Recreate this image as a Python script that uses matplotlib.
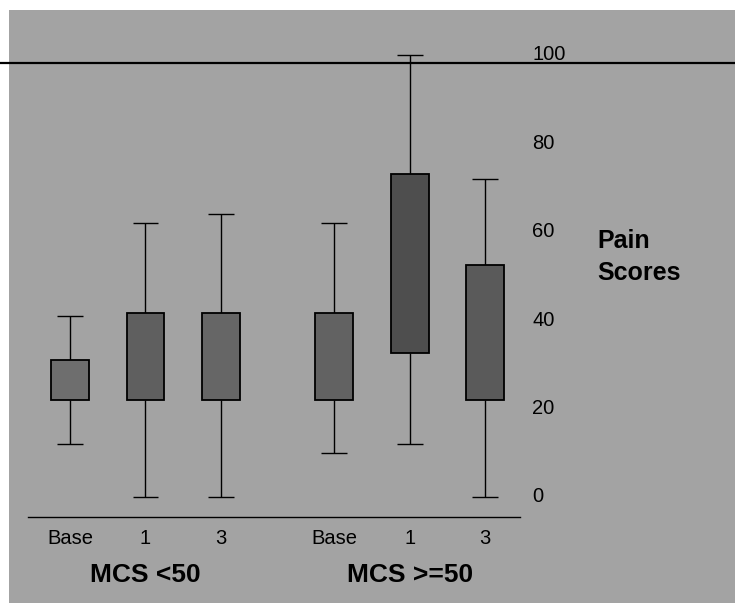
import matplotlib
matplotlib.use("Agg")
import matplotlib.pyplot as plt
from matplotlib.patches import Rectangle

# ---- data ----
categories = ["Base", "1", "3", "Base", "1", "3"]
groups = ["MCS <50", "MCS >=50"]
q1 = [22, 22, 22, 22, 32.5, 22]
q3 = [31, 41.5, 41.5, 41.5, 73, 52.5]
whisker_low = [12, 0, 0, 10, 12, 0]
whisker_high = [41, 62, 64, 62, 100, 72]
yticks = [0, 20, 40, 60, 80, 100]

positions = [1, 2, 3, 4.5, 5.5, 6.5]
group_centers = [2, 5.5]

W, H = 735, 603
fig = plt.figure(figsize=(W / 100, H / 100), dpi=100)
fig.patch.set_facecolor("white")
ax = fig.add_axes([0, 0, 1, 1])
ax.set_xlim(0.073, 9.808)
ax.set_ylim(-24.0, 112.4)
ax.axis("off")

font = "Liberation Sans"
bg = "#a3a3a3"
boxc = ["#6e6e6e", "#5f5f5f", "#666666", "#626262", "#4e4e4e", "#5a5a5a"]

# scanned grey background
ax.add_patch(Rectangle((9 / W, 0), 1, 1 - 10 / H, transform=ax.transAxes,
                       facecolor=bg, edgecolor="none", zorder=0))

# boxes
ax.bar(positions, [b - a for a, b in zip(q1, q3)], bottom=q1, width=0.5,
       color=boxc, edgecolor="black", linewidth=1.3, zorder=3)
# whiskers
ax.vlines(positions, whisker_low, q1, color="black", linewidth=1.0, zorder=2)
ax.vlines(positions, q3, whisker_high, color="black", linewidth=1.0, zorder=2)
ax.hlines(whisker_low, [p - 0.17 for p in positions], [p + 0.17 for p in positions],
          color="black", linewidth=1.0, zorder=2)
ax.hlines(whisker_high, [p - 0.17 for p in positions], [p + 0.17 for p in positions],
          color="black", linewidth=1.0, zorder=2)

# x axis line
ax.plot([0.444, 6.96], [-4.5, -4.5], color="black", linewidth=1.0, zorder=2)
# top rule across the page
ax.axhline(98.2, color="black", linewidth=1.6, zorder=2)

# y tick labels on the right side
for t in yticks:
    ax.text(7.12, t, str(t), ha="left", va="center", fontsize=14.5,
            family=font, color="black", zorder=4)

# category labels
for p, c in zip(positions, categories):
    ax.text(p, -9.3, c, ha="center", va="center", fontsize=14.5,
            family=font, color="black", zorder=4)

# group labels
for g, gc in zip(groups, group_centers):
    ax.text(gc, -17.6, g, ha="center", va="center", fontsize=19,
            family=font, fontweight="bold", color="black", zorder=4)

# axis title
ax.text(7.98, 54.3, "Pain\nScores", ha="left", va="center", fontsize=18,
        family=font, fontweight="bold", color="black", linespacing=1.4, zorder=4)

fig.savefig("out.png", dpi=100, facecolor=fig.get_facecolor())
